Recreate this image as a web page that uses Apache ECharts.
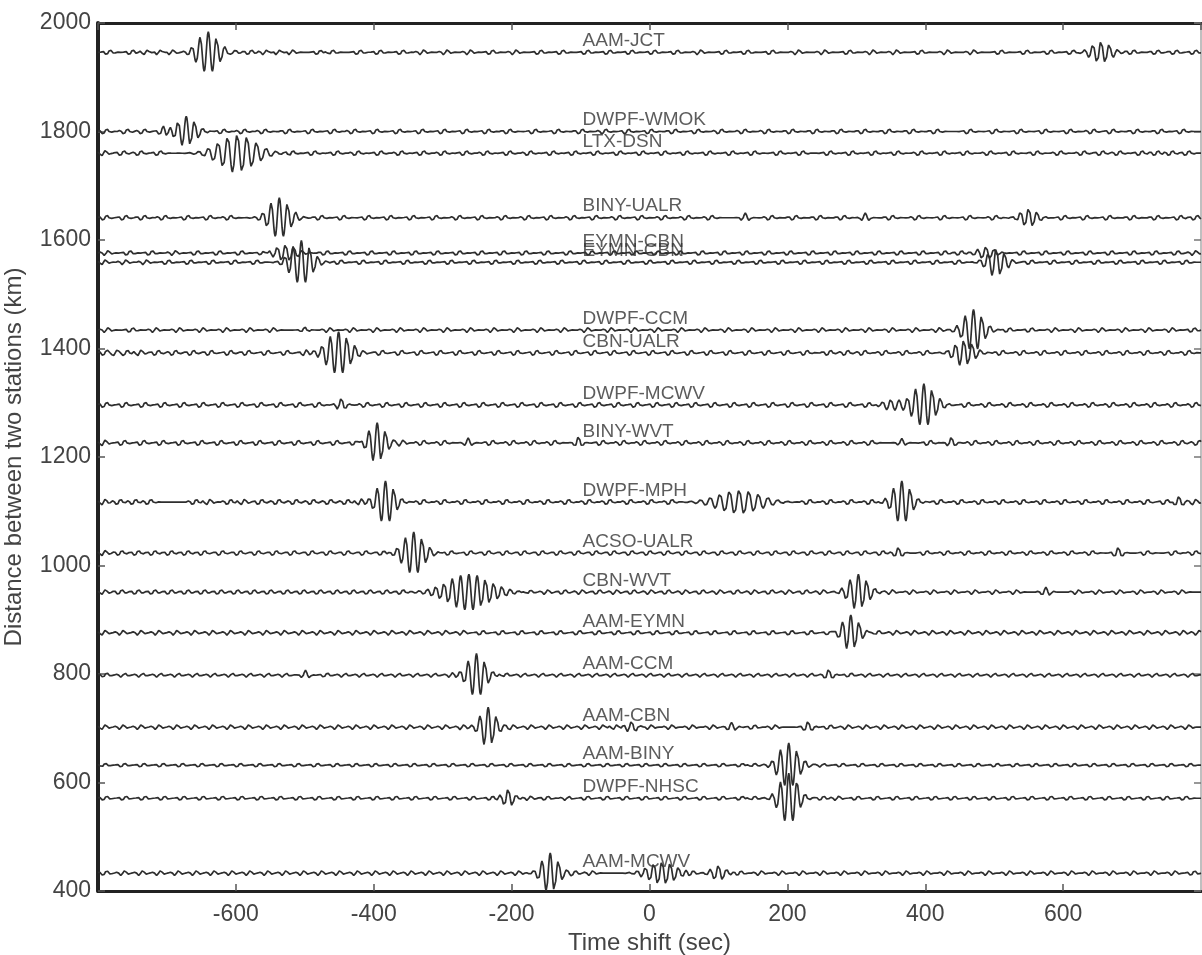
<!DOCTYPE html>
<html><head><meta charset="utf-8">
<script src="https://cdn.jsdelivr.net/npm/echarts@6/dist/echarts.min.js"></script>
<style>html,body{margin:0;padding:0;background:#fff}#c{width:1202px;height:955px}</style>
</head><body><div id="c"></div>
<script>
// ---- axis ticks ----
const xTicks = [-600, -400, -200, 0, 200, 400, 600];
const yTicks = [400, 600, 800, 1000, 1200, 1400, 1600, 1800, 2000];

// ---- station pairs (top to bottom) ----
const traceNames = ['AAM-JCT','DWPF-WMOK','LTX-DSN','BINY-UALR','EYMN-CBN','EYMN-CBN','DWPF-CCM','CBN-UALR',
  'DWPF-MCWV','BINY-WVT','DWPF-MPH','ACSO-UALR','CBN-WVT','AAM-EYMN','AAM-CCM','AAM-CBN','AAM-BINY','DWPF-NHSC','AAM-MCWV'];
// inter-station distance (km) = baseline of each trace
const traceDistances = [1946, 1800, 1760, 1641, 1576, 1559, 1434, 1392, 1296, 1226, 1117, 1023, 951, 876, 798, 702, 632, 571, 433];
// time (sec) where each label starts
const labelTime = -100;

// ---- main wave packets: [centre time s, amplitude km, half-width s, period s] ----
const mainPackets = [
  [[-640, 38, 15, 12], [655, 21, 14, 12]],
  [[-672, 28, 14, 12], [-705, 10, 6, 12]],
  [[-598, 36, 26, 14]],
  [[-537, 37, 15, 12], [550, 18, 12, 12], [313, 9, 5, 12], [139, 9, 5, 12]],
  [[-528, 16, 15, 12], [488, 12, 12, 12]],
  [[-505, 40, 15, 12], [503, 27, 13, 12]],
  [[470, 38, 14, 12], [-500, 6, 5, 12]],
  [[-451, 39, 17, 12], [456, 25, 14, 12]],
  [[398, 39, 16, 12], [350, 10, 12, 12], [-447, 13, 6, 12]],
  [[-395, 37, 12, 12], [-103, 12, 5, 12], [-263, 9, 5, 12], [438, 11, 5, 12], [366, 8, 5, 12]],
  [[-383, 39, 13, 12], [130, 23, 30, 14], [366, 39, 13, 12], [768, 11, 6, 12]],
  [[-342, 39, 15, 12], [361, 11, 6, 12], [680, 11, 6, 12]],
  [[-262, 33, 32, 12], [303, 33, 14, 12], [575, 9, 6, 12]],
  [[292, 33, 12, 12]],
  [[-251, 40, 13, 12], [260, 11, 6, 12], [-499, 9, 5, 12]],
  [[-234, 37, 11, 12], [-26, 11, 8, 12], [119, 9, 6, 12], [230, 11, 6, 12]],
  [[202, 41, 14, 12]],
  [[202, 46, 13, 12], [-205, 18, 8, 12]],
  [[-144, 37, 12, 12], [18, 22, 20, 12], [100, 15, 10, 12]]
];

// ---- small background wiggles (times in s) and their size (km) ----
const minorTimes = [
  [-785,-752,-731,-712,-694,-603,-580,-558,-539,-520,-480,-462,-422,-393,-360,-330,-296,-262,-230,-196,-160,-128,-92,-60,-28,5,38,72,108,140,176,214,252,288,322,356,392,430,468,508,545,580,612,700,735,762,790],
  [-790,-760,-735,-620,-590,-560,-525,-492,-460,-430,-398,-365,-332,-300,-268,-236,-205,-168,-135,-100,-66,-33,0,35,68,102,136,170,205,240,275,310,345,380,415,463,500,536,572,608,642,670,705,740,772],
  [-792,-765,-740,-712,-520,-488,-455,-425,-392,-362,-330,-300,-268,-238,-205,-175,-142,-110,-78,-45,-12,20,52,85,118,150,187,220,260,292,325,358,392,425,458,492,525,560,594,628,655,680,712,735,756,780],
  [-790,-762,-735,-705,-672,-640,-610,-478,-446,-410,-378,-345,-312,-278,-246,-212,-178,-146,-112,-80,-46,-14,20,54,88,175,210,245,280,350,388,425,462,500,600,632,665,700,735,768,792],
  [-788,-756,-724,-690,-658,-626,-594,-562,-470,-438,-406,-374,-342,-310,-278,-246,-214,-182,-150,-118,-86,-54,-22,10,42,74,106,138,170,202,234,266,298,330,362,394,426,450,540,572,604,636,668,700,732,764,790],
  [-792,-762,-732,-700,-668,-636,-604,-572,-450,-418,-386,-354,-322,-290,-258,-226,-194,-162,-130,-98,-66,-34,-2,30,62,94,126,158,190,222,254,286,318,350,382,414,446,552,584,616,648,680,712,744,776],
  [-788,-752,-718,-684,-650,-616,-582,-548,-466,-432,-398,-364,-330,-296,-262,-228,-194,-160,-126,-92,-58,-24,10,44,78,112,146,180,214,248,282,316,350,384,418,520,552,586,620,654,688,722,756,788],
  [-790,-775,-760,-740,-715,-690,-664,-638,-610,-584,-556,-528,-500,-390,-362,-334,-306,-278,-250,-222,-194,-166,-138,-110,-82,-54,-26,2,30,58,86,114,142,170,198,226,260,285,310,340,370,400,510,540,570,600,630,660,690,720,750,780],
  [-790,-762,-734,-706,-678,-650,-622,-594,-566,-538,-510,-482,-412,-384,-356,-328,-300,-272,-244,-216,-188,-160,-132,-104,-76,-48,-20,8,36,64,92,120,148,176,204,232,260,288,316,460,490,520,550,580,610,640,670,700,730,760,790],
  [-792,-764,-736,-708,-680,-652,-624,-596,-568,-540,-512,-484,-456,-428,-360,-330,-300,-230,-200,-170,-140,-70,-40,-10,20,50,80,110,140,170,200,230,260,290,320,405,470,500,530,560,590,620,650,680,710,740,770,795],
  [-792,-770,-748,-726,-660,-640,-610,-590,-565,-540,-515,-490,-465,-440,-420,-330,-300,-270,-240,-210,-180,-150,-120,-90,-60,-30,0,30,230,260,290,320,420,450,480,510,540,570,600,630,660,690,720,748,790],
  [-792,-768,-744,-720,-696,-672,-648,-622,-596,-570,-544,-518,-492,-466,-440,-414,-388,-290,-262,-236,-210,-184,-158,-132,-106,-80,-54,-28,-2,24,50,76,102,128,154,180,206,232,258,284,310,336,400,430,460,490,520,550,580,610,640,720,760,790],
  [-792,-768,-744,-720,-696,-672,-648,-624,-600,-576,-552,-528,-504,-480,-456,-432,-408,-384,-360,-175,-150,-125,-100,-75,-50,-25,0,25,50,75,100,125,150,175,200,225,250,350,380,410,440,470,500,530,620,650,680,710,740,770],
  [-792,-766,-740,-714,-688,-662,-636,-610,-584,-558,-532,-506,-480,-454,-428,-402,-376,-350,-324,-298,-272,-244,-216,-188,-160,-132,-104,-76,-48,-20,8,36,64,92,120,148,176,204,232,260,330,356,382,408,434,460,486,512,538,564,590,616,642,668,694,720,746,772,795],
  [-790,-764,-738,-712,-686,-660,-634,-608,-582,-556,-530,-470,-444,-418,-392,-366,-340,-314,-288,-210,-184,-158,-132,-106,-80,-54,-28,-2,24,50,76,102,128,154,180,206,232,290,316,342,368,394,420,446,472,498,524,550,576,602,628,654,680,706,732,758,784],
  [-792,-766,-740,-714,-688,-662,-636,-610,-584,-558,-532,-506,-480,-454,-428,-402,-376,-350,-324,-298,-272,-200,-174,-148,-122,-96,-70,-50,0,30,60,90,150,180,260,286,312,338,364,390,416,442,468,494,520,546,572,598,624,650,676,702,728,754,780],
  [-792,-764,-736,-708,-680,-652,-624,-596,-568,-540,-512,-484,-456,-428,-400,-372,-344,-316,-288,-260,-232,-204,-176,-148,-120,-92,-64,-36,-8,20,48,76,104,132,150,250,278,306,334,362,390,418,446,474,502,530,558,586,614,642,670,698,726,754,782],
  [-790,-762,-734,-706,-678,-650,-622,-594,-566,-538,-510,-482,-454,-426,-398,-370,-342,-314,-286,-258,-230,-175,-150,-120,-92,-64,-36,-8,20,48,76,104,132,150,250,272,300,328,356,384,412,440,468,496,524,552,580,608,636,664,692,720,748,776],
  [-790,-764,-738,-712,-686,-660,-634,-608,-582,-556,-530,-504,-478,-452,-426,-400,-374,-348,-322,-296,-270,-244,-218,-192,-110,-85,60,130,160,190,220,250,280,310,340,370,400,430,460,490,520,550,580,610,640,670,700,730,760,788]
];
const minorAmps = [5, 5.5, 5.5, 5.5, 5, 5, 5, 6, 6, 6, 6, 5.5, 5, 5, 4.5, 5, 4, 4.5, 5];
const minorWidth = 6;    // s
const minorPeriod = 12;  // s

// ---- build the series ----
function trace(i) {
  const pts = [];
  const base = traceDistances[i];
  for (let t = -800; t <= 800; t += 1) {
    let v = 0;
    for (const [c, a, s, p] of mainPackets[i]) {
      const d = t - c;
      if (Math.abs(d) < 4 * s) v += a * Math.exp(-0.5 * (d / s) * (d / s)) * Math.cos(2 * Math.PI * d / p);
    }
    for (const c of minorTimes[i]) {
      const d = t - c;
      if (Math.abs(d) < 4 * minorWidth) v += minorAmps[i] * Math.exp(-0.5 * (d / minorWidth) * (d / minorWidth)) * Math.sin(2 * Math.PI * d / minorPeriod);
    }
    pts.push([t, base + v]);
  }
  return pts;
}

const FONT = 'Liberation Sans';
const series = traceNames.map((n, i) => ({
  type: 'line', name: n, data: trace(i), showSymbol: false, symbol: 'none',
  lineStyle: { color: '#2e2e2e', width: 1.7 }, animation: false, silent: true, z: 2
}));
series.push({
  type: 'scatter', symbolSize: 0, silent: true, animation: false, z: 5,
  data: traceNames.map((n, i) => [labelTime, traceDistances[i], n]),
  label: {
    show: true, position: [0, 0], align: 'left', verticalAlign: 'bottom', offset: [2, -2],
    formatter: p => p.data[2], fontFamily: FONT, fontSize: 19, color: '#333'
  }
});

const chart = echarts.init(document.getElementById('c'), null, { renderer: 'canvas' });
const tickFont = { fontFamily: FONT, fontSize: 23, color: '#444' };
const titleFont = { fontFamily: FONT, fontSize: 24, color: '#444' };
chart.setOption({
  backgroundColor: '#fff',
  animation: false,
  grid: { left: 98, top: 23, width: 1103, height: 868, containLabel: false, outerBoundsMode: 'none' },
  xAxis: [
    { type: 'value', position: 'bottom', min: -800, max: 800, interval: 200,
      axisLine: { onZero: false, lineStyle: { color: '#222', width: 3 } },
      axisTick: { inside: true, length: 7, lineStyle: { color: '#555', width: 1.5 } },
      axisLabel: Object.assign({ margin: 12, showMinLabel: false, showMaxLabel: false,
        formatter: v => xTicks.includes(v) ? String(v) : '' }, tickFont),
      splitLine: { show: false },
      name: 'Time shift (sec)', nameLocation: 'middle', nameGap: 40,
      nameTextStyle: titleFont },
    { type: 'value', position: 'top', min: -800, max: 800, interval: 200,
      axisLine: { onZero: false, lineStyle: { color: '#222', width: 3 } },
      axisTick: { inside: true, length: 7, lineStyle: { color: '#555', width: 1.5 } },
      axisLabel: { show: false }, splitLine: { show: false } }
  ],
  yAxis: [
    { type: 'value', position: 'left', min: 400, max: 2000, interval: 200,
      axisLine: { onZero: false, lineStyle: { color: '#222', width: 4 } },
      axisTick: { inside: true, length: 7, lineStyle: { color: '#555', width: 1.5 } },
      axisLabel: Object.assign({ margin: 7, formatter: v => yTicks.includes(v) ? String(v) : '' }, tickFont),
      splitLine: { show: false },
      name: 'Distance between two stations (km)', nameLocation: 'middle', nameGap: 72, nameRotate: 90,
      nameTextStyle: titleFont },
    { type: 'value', position: 'right', min: 400, max: 2000, interval: 200,
      axisLine: { onZero: false, lineStyle: { color: '#aaa', width: 1.5 } },
      axisTick: { inside: true, length: 7, lineStyle: { color: '#777', width: 1.5 } },
      axisLabel: { show: false }, splitLine: { show: false } }
  ],
  series: series
});
</script>
</body></html>
